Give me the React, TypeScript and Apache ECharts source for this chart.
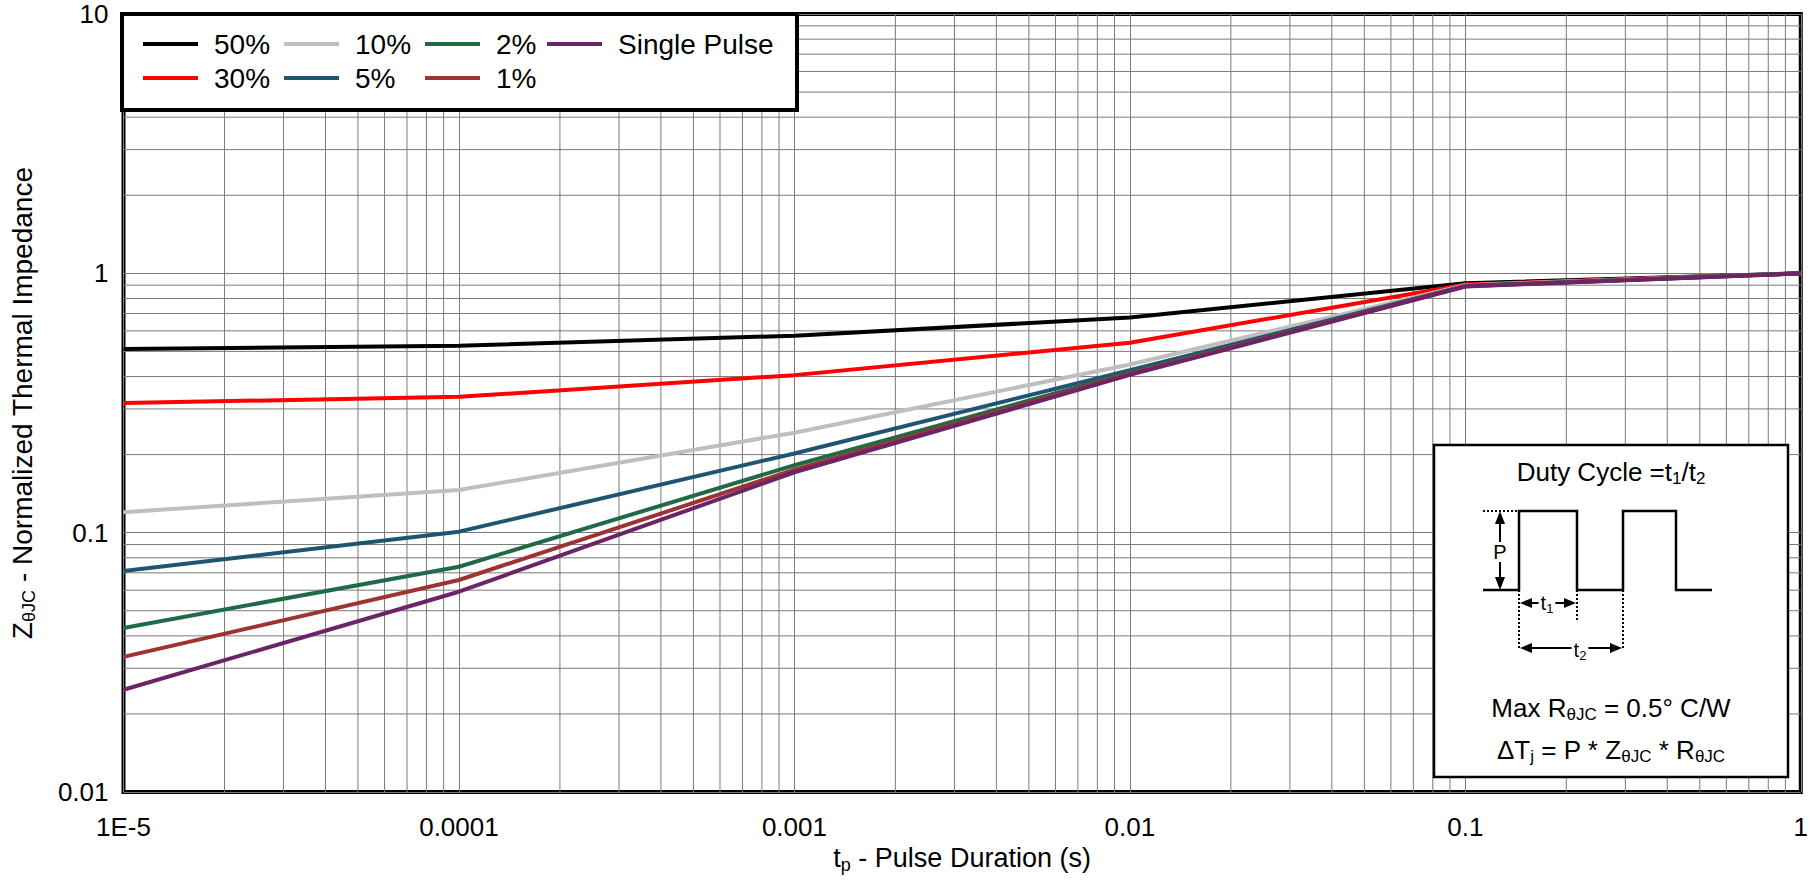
import React, { useEffect, useRef } from "react";
import * as echarts from "echarts";

// ---- data ----
const xValues = [1e-5, 1e-4, 1e-3, 1e-2, 1e-1, 1];
const xTickLabels = ["1E-5", "0.0001", "0.001", "0.01", "0.1", "1"];
const yTickLabels = ["0.01", "0.1", "1", "10"];

const seriesNames = ["50%", "30%", "10%", "5%", "2%", "1%", "Single Pulse"];
const duty50 = [0.511, 0.526, 0.575, 0.675, 0.915, 1.0];
const duty30 = [0.316, 0.334, 0.405, 0.54, 0.905, 1.0];
const duty10 = [0.12, 0.146, 0.243, 0.445, 0.9, 1.0];
const duty5 = [0.0711, 0.1009, 0.202, 0.423, 0.895, 1.0];
const duty2 = [0.0429, 0.0739, 0.182, 0.414, 0.893, 1.0];
const duty1 = [0.0332, 0.0657, 0.175, 0.41, 0.892, 1.0];
const singlePulse = [0.0248, 0.0592, 0.171, 0.406, 0.89, 1.0];
const seriesValues = [duty50, duty30, duty10, duty5, duty2, duty1, singlePulse];
const seriesColors = ["#000000", "#ff0000", "#bfbfbf", "#1f5573", "#1f6b47", "#9e3333", "#6b2466"];

// minor grid positions (log decades x 2..9)
const minorMultipliers = [2, 3, 4, 5, 6, 7, 8, 9];
const xDecades = [1e-5, 1e-4, 1e-3, 1e-2, 1e-1];
const yDecades = [0.01, 0.1, 1];

// legend columns
const legendColumns = [["50%", "30%"], ["10%", "5%"], ["2%", "1%"], ["Single Pulse"]];
const legendColumnLeft = [143, 284, 425, 547];

const FONT = "'Liberation Sans', Arial, Helvetica, sans-serif";

export default function App() {
  const ref = useRef<HTMLDivElement>(null);

  useEffect(() => {
    document.body.style.margin = "0";
    if (!ref.current) return;
    const chart = echarts.init(ref.current, undefined, { renderer: "svg" });

    const xMinor: number[] = [];
    xDecades.forEach((d) => minorMultipliers.forEach((m) => xMinor.push(d * m)));
    const yMinor: number[] = [];
    yDecades.forEach((d) => minorMultipliers.forEach((m) => yMinor.push(d * m)));

    const gridColor = "#7a7a7a";
    const subRich = { s: { fontSize: 18, padding: [13, 0, 0, 0], fontFamily: FONT, color: "#000" } };

    const curveSeries = seriesNames.map((name, i) => ({
      name,
      type: "line",
      z: 3,
      data: xValues.map((x, j) => [x, seriesValues[i][j]]),
      showSymbol: false,
      symbol: "none",
      color: seriesColors[i],
      lineStyle: { color: seriesColors[i], width: 4 },
      emphasis: { disabled: true },
    }));

    const minorX = {
      name: "minor-x",
      type: "custom",
      z: 1,
      silent: true,
      data: xMinor.map((v) => [v, 1]),
      renderItem: (_p: any, api: any) => {
        const v = api.value(0);
        const a = api.coord([v, 0.01]);
        const b = api.coord([v, 10]);
        return {
          type: "line",
          shape: { x1: a[0], y1: a[1], x2: b[0], y2: b[1] },
          style: { stroke: gridColor, lineWidth: 1 },
        };
      },
    };
    const minorY = {
      name: "minor-y",
      type: "custom",
      z: 1,
      silent: true,
      data: yMinor.map((v) => [1e-3, v]),
      renderItem: (_p: any, api: any) => {
        const v = api.value(1);
        const a = api.coord([1e-5, v]);
        const b = api.coord([1, v]);
        return {
          type: "line",
          shape: { x1: a[0], y1: a[1], x2: b[0], y2: b[1] },
          style: { stroke: gridColor, lineWidth: 1 },
        };
      },
    };

    const legends = legendColumns.map((col, i) => ({
      data: col,
      orient: "vertical",
      left: legendColumnLeft[i],
      top: 30,
      padding: 0,
      itemWidth: 55,
      itemHeight: 4,
      itemGap: 6,
      icon: "rect",
      selectedMode: false,
      z: 100,
      textStyle: { fontSize: 28, color: "#000", fontFamily: FONT, padding: [0, 0, 0, 11] },
    }));

    const bl = (x1: number, y1: number, x2: number, y2: number, dash = false) => ({
      type: "line",
      z: 60,
      shape: { x1, y1, x2, y2 },
      style: { stroke: "#000", lineWidth: 2, lineDash: dash ? [2, 2] : null },
    });
    const tri = (pts: number[][]) => ({
      type: "polygon",
      z: 61,
      shape: { points: pts },
      style: { fill: "#000" },
    });

    const insetText = (x: number, y: number, text: string, size: number, bg = false) => ({
      type: "text",
      z: 62,
      x,
      y,
      style: {
        text,
        fontSize: size,
        fontFamily: FONT,
        fill: "#000",
        align: "center",
        verticalAlign: "middle",
        backgroundColor: bg ? "#fff" : undefined,
        padding: bg ? [0, 2, 0, 2] : 0,
        rich: {
          s: { fontSize: Math.round(size * 0.65), padding: [Math.round(size * 0.5), 0, 0, 0], fontFamily: FONT, fill: "#000" },
        },
      },
    });

    const option = {
      animation: false,
      textStyle: { fontFamily: FONT },
      grid: {
        left: 122,
        top: 14,
        width: 1682,
        height: 778,
        show: true,
        borderColor: "#000",
        borderWidth: 4,
        backgroundColor: "#fff",
      },
      legend: legends,
      xAxis: {
        type: "log",
        logBase: 10,
        min: 1e-5,
        max: 1,
        splitNumber: 5,
        axisLine: { show: false },
        axisTick: { show: false },
        axisLabel: {
          fontSize: 26,
          color: "#000",
          fontFamily: FONT,
          margin: 22,
          showMinLabel: true,
          showMaxLabel: true,
          formatter: (v: number) => xTickLabels[Math.round(Math.log10(v)) + 5] ?? "",
        },
        splitLine: { show: true, lineStyle: { color: gridColor, width: 1 } },
        name: "t{s|p} - Pulse Duration (s)",
        nameLocation: "middle",
        nameGap: 46,
        nameTextStyle: { fontSize: 27, color: "#000", fontFamily: FONT, rich: subRich },
      },
      yAxis: {
        type: "log",
        logBase: 10,
        min: 0.01,
        max: 10,
        splitNumber: 3,
        axisLine: { show: false },
        axisTick: { show: false },
        axisLabel: {
          fontSize: 26,
          color: "#000",
          fontFamily: FONT,
          margin: 15,
          showMinLabel: true,
          showMaxLabel: true,
          formatter: (v: number) => yTickLabels[Math.round(Math.log10(v)) + 2] ?? "",
        },
        splitLine: { show: true, lineStyle: { color: gridColor, width: 1 } },
        name: "Z{s|θJC} - Normalized Thermal Impedance",
        nameLocation: "middle",
        nameGap: 86,
        nameTextStyle: { fontSize: 28, color: "#000", fontFamily: FONT, rich: subRich },
      },
      series: [minorX, minorY, ...curveSeries],
      graphic: [
        // legend frame
        {
          type: "rect",
          z: 50,
          shape: { x: 122, y: 14, width: 675, height: 96 },
          style: { fill: "#fff", stroke: "#000", lineWidth: 4 },
        },
        // inset frame
        {
          type: "rect",
          z: 50,
          shape: { x: 1434, y: 445, width: 354, height: 332 },
          style: { fill: "#fff", stroke: "#000", lineWidth: 2.5 },
        },
        insetText(1611, 472, "Duty Cycle =t{s|1}/t{s|2}", 26),
        {
          type: "polyline",
          z: 60,
          shape: {
            points: [
              [1483, 590], [1519, 590], [1519, 511], [1577, 511], [1577, 590],
              [1623, 590], [1623, 511], [1676, 511], [1676, 590], [1712, 590],
            ],
          },
          style: { stroke: "#000", lineWidth: 2.5, fill: null },
        },
        bl(1483, 511, 1519, 511, true),
        bl(1519, 590, 1519, 650, true),
        bl(1577, 590, 1577, 622, true),
        bl(1623, 590, 1623, 650, true),
        // P arrow
        bl(1500, 520, 1500, 581),
        tri([[1500, 511], [1495, 524], [1505, 524]]),
        tri([[1500, 590], [1495, 577], [1505, 577]]),
        insetText(1500, 552, "P", 20, true),
        // t1 arrow
        bl(1528, 603, 1568, 603),
        tri([[1520, 603], [1532, 598], [1532, 608]]),
        tri([[1576, 603], [1564, 598], [1564, 608]]),
        insetText(1547, 603, "t{s|1}", 20, true),
        // t2 arrow
        bl(1528, 648, 1614, 648),
        tri([[1520, 648], [1532, 643], [1532, 653]]),
        tri([[1622, 648], [1610, 643], [1610, 653]]),
        insetText(1580, 650, "t{s|2}", 20, true),
        insetText(1611, 708, "Max R{s|θJC} = 0.5° C/W", 26),
        insetText(1611, 750, "ΔT{s|j} = P * Z{s|θJC} * R{s|θJC}", 26),
      ],
    };

    chart.setOption(option as any);
    return () => chart.dispose();
  }, []);

  return <div ref={ref} style={{ width: 1811, height: 880 }} />;
}
